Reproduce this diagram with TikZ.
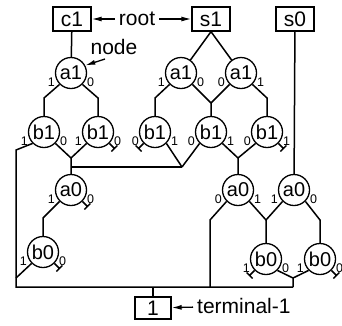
\documentclass[tikz,border=0pt]{standalone}
\usepackage{fontspec}
\setmainfont{Liberation Sans}
\usetikzlibrary{arrows.meta}
\begin{document}
\begin{tikzpicture}[x=1pt,y=-1pt,
  every node/.style={inner sep=0pt},
  vnode/.style={circle,draw,line width=1.3pt,minimum size=31pt,font=\fontsize{20}{20}\selectfont},
  tbox/.style={draw,line width=1.3pt,minimum width=38pt,minimum height=24pt,font=\fontsize{21}{21}\selectfont},
  edge/.style={line width=1.5pt},
  lab/.style={font=\fontsize{12.5}{12.5}\selectfont},
  txt/.style={font=\fontsize{21}{21}\selectfont,inner sep=4pt},
  arr/.style={line width=1.3pt,-{Latex[length=10pt,width=5pt]}},
  lr/.style 2 args={label={[lab,label distance=0.5pt]197:#1},label={[lab,label distance=0.5pt]-17:#2}},
]
\useasboundingbox (0,0) rectangle (342,325);
% boxes and texts
\node[tbox] (c1) at (72,19) {c1};
\node[tbox] (s1) at (211,19) {s1};
\node[tbox] (s0) at (295,19) {s0};
\node[txt] (root) at (137,19) {root};
\node[txt] (nodetxt) at (114,47) {node};
\node[tbox,minimum width=36pt,minimum height=22pt] (t1) at (153,308) {1};
\node[txt,anchor=west] (term) at (193,306) {terminal-1};
% decision nodes
\node[vnode,lr={1}{0}] (a1L) at (71,73) {a1};
\node[vnode,lr={1}{0}] (a1P) at (181,73) {a1};
\node[vnode,lr={0}{1}] (a1Q) at (241,73) {a1};
\node[vnode,lr={1}{0}] (b1A) at (44,132) {b1};
\node[vnode,lr={1}{0}] (b1B) at (98,132) {b1};
\node[vnode,lr={0}{1}] (b1C) at (155,132) {b1};
\node[vnode,lr={0}{1}] (b1D) at (211,132) {b1};
\node[vnode,lr={0}{1}] (b1E) at (267,132) {b1};
\node[vnode,lr={1}{0}] (a0L) at (71,190) {a0};
\node[vnode,lr={0}{1}] (a0M) at (238,190) {a0};
\node[vnode,lr={1}{0}] (a0R) at (294,190) {a0};
\node[vnode,lr={1}{0}] (b0L) at (43,252) {b0};
\node[vnode,lr={1}{0}] (b0M) at (266,259) {b0};
\node[vnode,lr={1}{0}] (b0R) at (320,259) {b0};
% corner coordinates
\coordinate (kA) at (44,98);
\coordinate (kB) at (98,98);
\coordinate (kC) at (155,98);
\coordinate (kD) at (211,103);
\coordinate (kE) at (267,98);
\coordinate (kL) at (16,150);
\coordinate (kLB) at (16,287);
\coordinate (jAB) at (71,158);
\coordinate (jH) at (71,167);
\coordinate (jCD) at (182,167);
\coordinate (jDE) at (238,158);
\coordinate (kaL) at (43,218);
\coordinate (kaM) at (210,220);
\coordinate (kaMB) at (210,287);
\coordinate (jMR) at (266,220);
\coordinate (kaR) at (320,220);
\coordinate (kb0) at (16,278);
\coordinate (jb0) at (293,278);
\coordinate (kRB) at (293,287);
\coordinate (kT) at (153,287);
\coordinate (ntail) at (105,59);
% arrows
\draw[arr] (root) -- (c1);
\draw[arr] (root) -- (s1);
\draw[arr] (ntail) -- (a1L.28);
\draw[arr] (term) -- (t1);
% edges
\draw[edge] (c1) -- (a1L);
\draw[edge] (s1.south) -- (a1P);
\draw[edge] (s1.south) -- (a1Q);
\draw[edge] (s0) -- (a0R);
\draw[edge] (a1L.225) -- (kA) -- (b1A);
\draw[edge] (a1L.-45) -- (kB) -- (b1B);
\draw[edge] (a1P.225) -- (kC) -- (b1C);
\draw[edge] (a1P.-45) -- (kD) -- (b1D);
\draw[edge] (a1Q.225) -- (kD);
\draw[edge] (a1Q.-45) -- (kE) -- (b1E);
\draw[edge] (b1A.225) -- (kL) -- (kLB) -- (kRB);
\draw[edge] (b1A.-45) -- (jAB) -- (a0L);
\draw[edge] (b1B.225) -- (jAB);
\draw[edge] (jH) -- (jCD);
\draw[edge] (b1C.-45) -- (jCD);
\draw[edge] (b1D.225) -- (jCD);
\draw[edge] (b1D.-45) -- (jDE) -- (a0M);
\draw[edge] (b1E.225) -- (jDE);
\draw[edge] (a0L.225) -- (kaL) -- (b0L);
\draw[edge] (a0M.225) -- (kaM) -- (kaMB);
\draw[edge] (a0M.-45) -- (jMR) -- (b0M);
\draw[edge] (a0R.225) -- (jMR);
\draw[edge] (a0R.-45) -- (kaR) -- (b0R);
\draw[edge] (b0L.225) -- (kb0);
\draw[edge] (b0M.-45) -- (jb0) -- (kRB);
\draw[edge] (b0R.225) -- (jb0);
\draw[edge] (kT) -- (t1);
% stubs (edges to terminal-0)
\draw[edge] (b1B.-45) -- ++(5,5) ++(-3,3) -- ++(6,-6);
\draw[edge] (b1C.225) -- ++(-5,5) ++(-3,-3) -- ++(6,6);
\draw[edge] (b1E.-45) -- ++(5,5) ++(-3,3) -- ++(6,-6);
\draw[edge] (a0L.-45) -- ++(5,5) ++(-3,3) -- ++(6,-6);
\draw[edge] (b0L.-45) -- ++(5,5) ++(-3,3) -- ++(6,-6);
\draw[edge] (b0M.225) -- ++(-5,5) ++(-3,-3) -- ++(6,6);
\draw[edge] (b0R.-45) -- ++(5,5) ++(-3,3) -- ++(6,-6);
\end{tikzpicture}
\end{document}
